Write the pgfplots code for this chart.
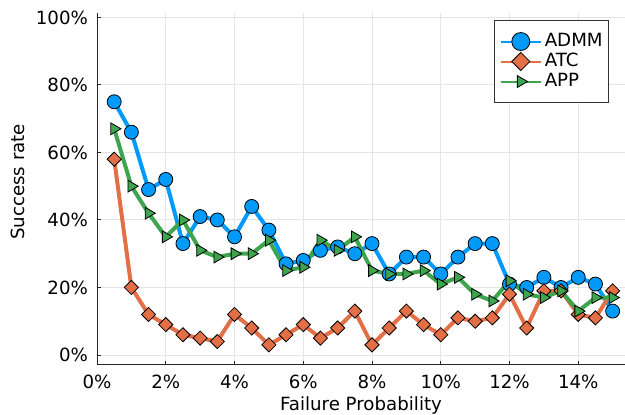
\documentclass[border=0pt]{standalone}
\usepackage{pgfplots}
\pgfplotsset{compat=1.18}
\usepackage{fontspec}
\setmainfont{DejaVu Sans}
\definecolor{c1}{RGB}{0,154,250}
\definecolor{c2}{RGB}{227,111,71}
\definecolor{c3}{RGB}{62,164,78}
\begin{document}
\begin{tikzpicture}
\begin{axis}[
  at={(0pt,0pt)}, anchor=south west,
  scale only axis, width=264pt, height=176pt,
  xmin=0, xmax=15.36, ymin=-2.96, ymax=101.3,
  font=\fontsize{9.1}{10.5}\selectfont,
  /pgf/number format/assume math mode=true,
  axis x line*=bottom, axis y line*=left,
  axis line style={line width=0.5pt, black!85, -},
  xtick={0,2,4,6,8,10,12,14},
  xticklabels={0\%,2\%,4\%,6\%,8\%,10\%,12\%,14\%},
  ytick={0,20,40,60,80,100},
  yticklabels={0\%,20\%,40\%,60\%,80\%,100\%},
  tick align=inside, major tick length=2pt,
  tick style={black!85, line width=0.5pt},
  xticklabel style={yshift=-1.5pt},
  yticklabel style={xshift=-1pt},
  grid=major, major grid style={line width=0.5pt, black!10},
  xlabel={Failure Probability}, ylabel={Success rate},
  xlabel style={at={(axis description cs:0.5,-0.1136)}, anchor=center},
  ylabel style={at={(axis description cs:-0.1496,0.52)}, anchor=center},
  legend style={at={(axis description cs:0.970,0.980)}, anchor=north east,
    draw=black!80, line width=0.5pt, inner xsep=2.5pt, inner ysep=5.5pt,
    column sep=1pt, row sep=0pt,
    nodes={inner sep=0.5pt, text height=7pt, text depth=2pt},
    font=\fontsize{9.1}{10.5}\selectfont},
  legend cell align=left,
]
\addplot[c1, line width=2pt, mark=*, mark size=3.5pt, mark options={fill=c1, draw=black, line width=0.4pt},
  legend image code/.code={\draw[draw=c1, line width=1pt] (0pt,0pt) -- (20pt,0pt); \path[mark=*, mark size=4.5pt, mark options={fill=c1, draw=black, line width=0.4pt}] plot coordinates {(10pt,0pt)};}] coordinates {
(0.5,75) (1.0,66) (1.5,49) (2.0,52) (2.5,33) (3.0,41) (3.5,40) (4.0,35) (4.5,44) (5.0,37)
(5.5,27) (6.0,28) (6.5,31) (7.0,32) (7.5,30) (8.0,33) (8.5,24) (9.0,29) (9.5,29) (10.0,24)
(10.5,29) (11.0,33) (11.5,33) (12.0,21) (12.5,20) (13.0,23) (13.5,20) (14.0,23) (14.5,21) (15.0,13)};
\addlegendentry{ADMM}
\addplot[c2, line width=2pt, mark=square*, mark size=2.5pt, mark options={rotate=45, fill=c2, draw=black, line width=0.4pt},
  legend image code/.code={\draw[draw=c2, line width=1pt] (0pt,0pt) -- (20pt,0pt); \path[mark=square*, mark size=3.2pt, mark options={rotate=45, fill=c2, draw=black, line width=0.4pt}] plot coordinates {(10pt,0pt)};}] coordinates {
(0.5,58) (1.0,20) (1.5,12) (2.0,9) (2.5,6) (3.0,5) (3.5,4) (4.0,12) (4.5,8) (5.0,3)
(5.5,6) (6.0,9) (6.5,5) (7.0,8) (7.5,13) (8.0,3) (8.5,8) (9.0,13) (9.5,9) (10.0,6)
(10.5,11) (11.0,10) (11.5,11) (12.0,18) (12.5,8) (13.0,19) (13.5,19) (14.0,12) (14.5,11) (15.0,19)};
\addlegendentry{ATC}
\addplot[c3, line width=2pt, mark=triangle*, mark size=3.4pt, mark options={rotate=-90, fill=c3, draw=black, line width=0.4pt},
  legend image code/.code={\draw[draw=c3, line width=1pt] (0pt,0pt) -- (20pt,0pt); \path[mark=triangle*, mark size=3.4pt, mark options={rotate=-90, fill=c3, draw=black, line width=0.4pt}] plot coordinates {(10pt,0pt)};}] coordinates {
(0.5,67) (1.0,50) (1.5,42) (2.0,35) (2.5,40) (3.0,31) (3.5,29) (4.0,30) (4.5,30) (5.0,34)
(5.5,25) (6.0,26) (6.5,34) (7.0,31) (7.5,35) (8.0,25) (8.5,24) (9.0,24) (9.5,25) (10.0,21)
(10.5,23) (11.0,18) (11.5,16) (12.0,22) (12.5,18) (13.0,17) (13.5,19) (14.0,13) (14.5,17) (15.0,17)};
\addlegendentry{APP}
\end{axis}
\pgfresetboundingbox
\path[use as bounding box] (-48.5pt,-25pt) rectangle (264pt,182.5pt);
\end{tikzpicture}
\end{document}
